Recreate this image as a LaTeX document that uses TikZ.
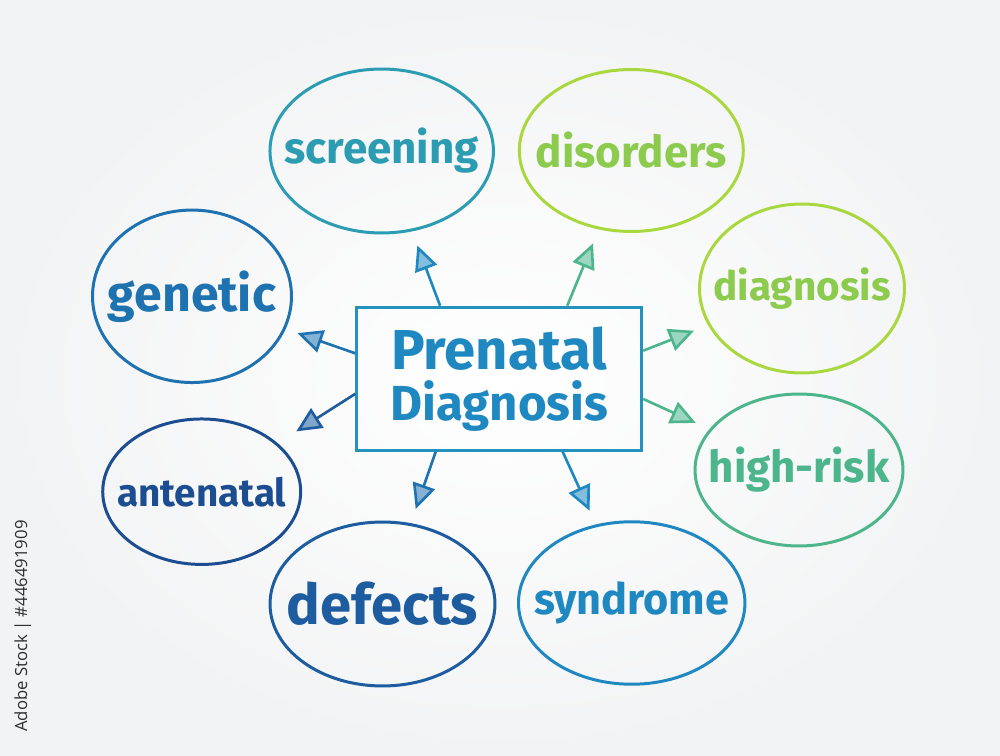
\documentclass[tikz,border=0pt]{standalone}
\usepackage{fontspec}
\setmainfont{Fira Sans}
\newfontfamily\stockfont{Open Sans}
\usepackage{tikz}
\usetikzlibrary{shapes.geometric, arrows.meta, positioning}
\definecolor{pdPaper}{HTML}{F2F3F4}
\definecolor{pdNavy}{HTML}{1B4D90}
\definecolor{pdDeep}{HTML}{1C5C9F}
\definecolor{pdBlue}{HTML}{1F72B0}
\definecolor{pdSky}{HTML}{1F88C0}
\definecolor{pdTeal}{HTML}{2C9CB2}
\definecolor{pdSea}{HTML}{4DB58C}
\definecolor{pdGreen}{HTML}{8CCB4E}
\definecolor{pdLime}{HTML}{A9D83E}
\definecolor{pdBox}{HTML}{2393BD}
\definecolor{pdGray}{HTML}{2E2E2E}
\tikzset{
  pdbubble/.style={ellipse, draw, line width=1.7pt, inner sep=0pt},
  pdword/.style={font=\bfseries\fontsize{#1}{#1}\selectfont},
  pdword/.default=25,
  pdbox/.style={rectangle, draw=pdBox, line width=1.7pt, align=center,
                minimum width=5.7cm, minimum height=2.86cm, inner sep=0pt,
                text=pdSky, font=\bfseries\fontsize{30}{29}\selectfont},
  pdflow/.style={-{Triangle[length=5mm, width=4.6mm, fill=#1!55]},
                 line width=1.5pt, draw=#1, shorten >=0.3cm},
}

\begin{document}
\begin{tikzpicture}[x=0.02cm, y=-0.02cm]
  % paper
  \shade[inner color=white, outer color=pdPaper](0,0) rectangle (1000,756);
  \useasboundingbox (0,0) rectangle (1000,756);
  \node[pdbox](prenatal) at (499.2,378.7){{\fontsize{32}{29}\selectfont Prenatal}\\
    {\fontsize{28}{29}\selectfont Diagnosis}};
  % bubbles
  \node[pdbubble, draw=pdTeal, minimum width=4.47cm, minimum height=3.28cm,
        label={[pdword, text=pdTeal]center:screening}](screening) at (381.7,151){};
  \node[pdbubble, draw=pdLime, minimum width=4.48cm, minimum height=3.24cm,
        label={[pdword, text=pdGreen]center:disorders}](disorders) at (631.3,150.5){};
  \node[pdbubble, draw=pdLime, minimum width=4.10cm, minimum height=3.38cm,
        label={[pdword=23, text=pdGreen]center:diagnosis}](diagnosis) at (802,288.5){};
  \node[pdbubble, draw=pdSea, minimum width=4.16cm, minimum height=3.04cm,
        label={[pdword, text=pdSea]center:high-risk}](highrisk) at (799,470){};
  \node[pdbubble, draw=pdSky, minimum width=4.53cm, minimum height=3.25cm,
        label={[pdword=24.6, text=pdSky]center:syndrome}](syndrome) at (631.7,603){};
  \node[pdbubble, draw=pdDeep, minimum width=4.50cm, minimum height=3.28cm,
        label={[pdword=32, text=pdDeep]center:defects}](defects) at (382.5,604){};
  \node[pdbubble, draw=pdNavy, minimum width=3.96cm, minimum height=2.91cm,
        label={[pdword=22, text=pdNavy]center:antenatal}](antenatal) at (201.7,491.7){};
  \node[pdbubble, draw=pdBlue, minimum width=3.98cm, minimum height=3.45cm,
        label={[pdword=28.5, text=pdBlue]center:genetic}](genetic) at (192,296.3){};
  % stock id
  \node[rotate=90, font=\stockfont\fontsize{9.5}{11}\selectfont, text=pdGray]
       (stockid) at (22.7,626){Adobe Stock | \#446491909};
  \draw[pdflow=pdSky](prenatal.129)--(screening);
  \draw[pdflow=pdSea](prenatal.47)--(disorders);
  \draw[pdflow=pdBlue, shorten >=0.25cm](prenatal.170)--(genetic);
  \draw[pdflow=pdDeep, shorten >=0.44cm](prenatal.186)--(antenatal);
  \draw[pdflow=pdBlue](prenatal.-131)--(defects);
  \draw[pdflow=pdSky](prenatal.-49)--(syndrome);
  \draw[pdflow=pdSea](prenatal.11)--(diagnosis);
  \draw[pdflow=pdSea](prenatal.-8)--(highrisk);
\end{tikzpicture}
\end{document}
